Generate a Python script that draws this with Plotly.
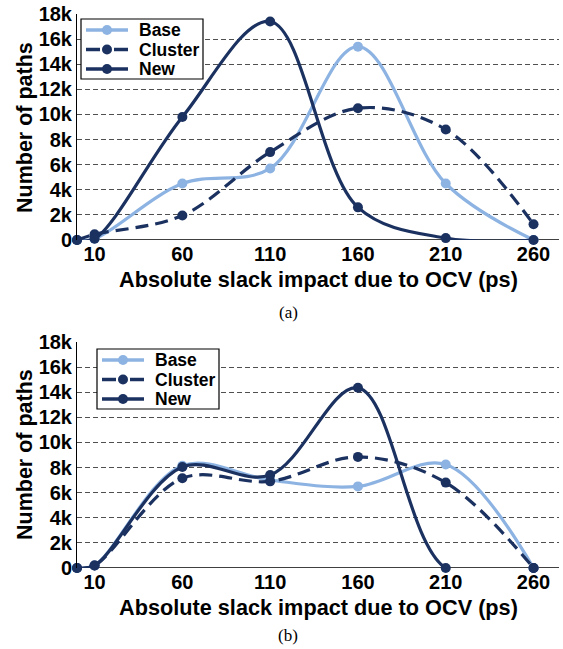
import plotly.graph_objects as go

x_vals = [0, 10, 60, 110, 160, 210, 260]
tick_vals = [10, 60, 110, 160, 210, 260]
tick_text = ["10", "60", "110", "160", "210", "260"]
y_tick_vals = [0, 2000, 4000, 6000, 8000, 10000, 12000, 14000, 16000, 18000]
y_tick_text = ["0", "2k", "4k", "6k", "8k", "10k", "12k", "14k", "16k", "18k"]
series_names = ["Base", "Cluster", "New"]

# (a)
a_base = [0, 100, 4500, 5700, 15400, 4500, 0]
a_cluster = [0, 450, 1950, 7000, 10500, 8800, 1250]
a_new = [0, 100, 9800, 17400, 2600, 150, 0]
# (b)
b_base = [0, 200, 8150, 7000, 6500, 8250, 0]
b_cluster = [0, 200, 7150, 6900, 8850, 6800, 0]
b_new = [0, 200, 8050, 7400, 14350, 0, 0]

LIGHT = "#8DB3E2"
DARK = "#1B3160"
FONT = "Liberation Sans"
CLUSTER_DASH = "13px,7px"
styles = {"Base": (LIGHT, "solid"), "Cluster": (DARK, CLUSTER_DASH), "New": (DARK, "solid")}

W, H = 563, 649
def py(p):
    return 1 - p / H
def px(p):
    return p / W

fig = go.Figure()

def add_series(y, name, xa, ya):
    color, dash = styles[name]
    fig.add_trace(go.Scatter(
        x=x_vals, y=y, name=name, mode="lines+markers",
        line=dict(color=color, width=3.2, dash=dash, shape="spline", smoothing=1.0),
        marker=dict(color=color, size=10),
        xaxis=xa, yaxis=ya, showlegend=False, cliponaxis=False,
    ))

for ys, nm in zip([a_base, a_cluster, a_new], series_names):
    add_series(ys, nm, "x", "y")
for ys, nm in zip([b_base, b_cluster, b_new], series_names):
    add_series(ys, nm, "x2", "y2")

xdom = [px(77), px(559)]
xaxis_common = dict(
    domain=xdom, range=[0, 274.5], tickvals=tick_vals, ticktext=tick_text,
    showgrid=False, zeroline=False, showline=False, automargin=False,
    tickfont=dict(family=FONT, size=20, color="black", weight="bold"),
    ticks="", fixedrange=True,
)
yaxis_common = dict(
    range=[0, 18000], tickvals=y_tick_vals, ticktext=y_tick_text,
    showgrid=True, gridcolor="#505050", griddash="5px,3px", gridwidth=1,
    zeroline=False, showline=True, linecolor="black", linewidth=1, automargin=False,
    tickfont=dict(family=FONT, size=20, color="black", weight="bold"),
    ticks="", fixedrange=True,
)

fig.update_layout(
    template="none",
    width=W, height=H,
    margin=dict(l=0, r=0, t=0, b=0, autoexpand=False),
    paper_bgcolor="white", plot_bgcolor="white",
    xaxis=dict(**xaxis_common, anchor="y"),
    yaxis=dict(**yaxis_common, domain=[py(240), py(14)], anchor="x"),
    xaxis2=dict(**xaxis_common, anchor="y2"),
    yaxis2=dict(**yaxis_common, domain=[py(568), py(342)], anchor="x2"),
    showlegend=False,
)

# x-axis baseline lines at y=0
for xa, ya in [("x", "y"), ("x2", "y2")]:
    fig.add_shape(type="line", xref=f"{xa} domain", yref=ya, x0=0, x1=1, y0=0, y1=0,
                  line=dict(color="black", width=1.5), layer="below")

# legends (box, samples, labels)
def add_legend(bx, by):
    fig.add_shape(type="rect", xref="paper", yref="paper",
                  x0=px(bx), x1=px(bx + 122), y0=py(by), y1=py(by + 60),
                  line=dict(color="black", width=1.2), fillcolor="white", layer="above")
    for i, nm in enumerate(series_names):
        color, dash = styles[nm]
        cy = by + 11 + i * 19.5
        lx0, lx1, mx = bx + 5, bx + 47, bx + 26
        if nm == "Cluster":
            segs = [(lx0, mx - 7), (mx + 7, lx1)]
        else:
            segs = [(lx0, lx1)]
        for s0, s1 in segs:
            fig.add_shape(type="line", xref="paper", yref="paper",
                          x0=px(s0), x1=px(s1), y0=py(cy), y1=py(cy),
                          line=dict(color=color, width=3.5), layer="above")
        fig.add_shape(type="circle", xref="paper", yref="paper",
                      x0=px(mx - 5), x1=px(mx + 5), y0=py(cy - 5), y1=py(cy + 5),
                      line=dict(color=color, width=0), fillcolor=color, layer="above")
        fig.add_annotation(text=nm, x=px(bx + 56), y=py(cy), xref="paper", yref="paper",
                           showarrow=False, xanchor="left", yanchor="middle",
                           font=dict(family=FONT, size=17.5, color="black", weight="bold"))

add_legend(81, 19)
add_legend(97, 349)

for yc in [py(279), py(607)]:
    fig.add_annotation(text="Absolute slack impact due to OCV (ps)", x=px(318), y=yc,
                       xref="paper", yref="paper", showarrow=False,
                       xanchor="center", yanchor="middle",
                       font=dict(family=FONT, size=21.7, color="black", weight="bold"))
for yc in [py(128), py(455)]:
    fig.add_annotation(text="Number of paths", x=px(25), y=yc, xref="paper", yref="paper",
                       showarrow=False, textangle=-90, xanchor="center", yanchor="middle",
                       font=dict(family=FONT, size=21.5, color="black", weight="bold"))
for lbl, yc in [("(a)", py(312)), ("(b)", py(635))]:
    fig.add_annotation(text=lbl, x=px(288), y=yc, xref="paper", yref="paper",
                       showarrow=False, xanchor="center", yanchor="middle",
                       font=dict(family="Liberation Serif", size=17, color="black"))

fig.write_html("out.html", config={"displayModeBar": False},
               post_script="document.body.style.margin='0px';")
